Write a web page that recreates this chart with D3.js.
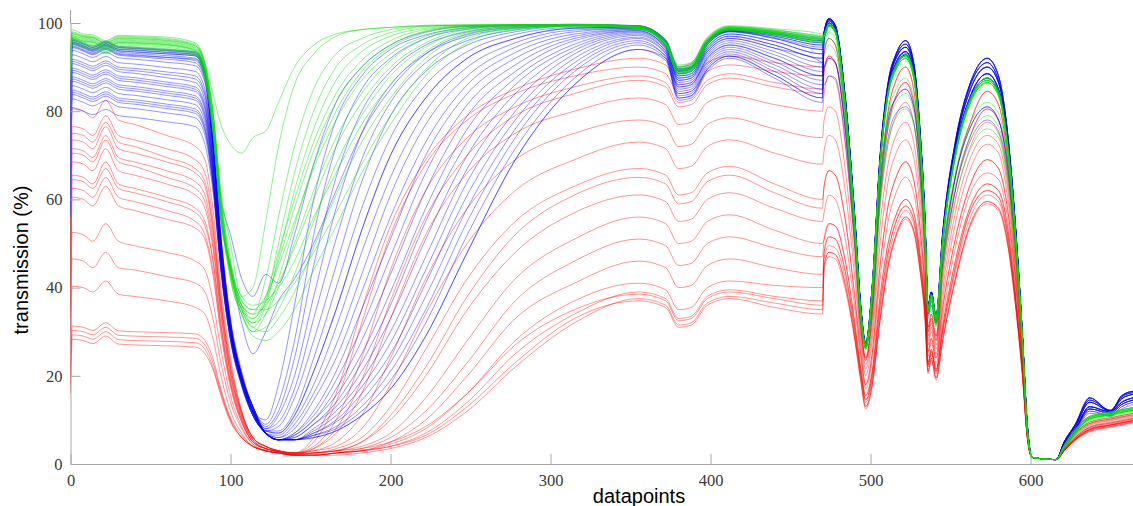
<!DOCTYPE html>
<html><head><meta charset="utf-8">
<script src="https://cdn.jsdelivr.net/npm/d3@7"></script>
<style>body{margin:0;background:#fff}svg{display:block}</style>
</head><body>
<svg id="chart" width="1133" height="506"></svg>
<script>
// shared datapoint positions (x) at which every spectrum was read
const xPoints = [0,1,8,14,22,30,40,60,78,84,89,94,100,107,114,122,130,140,152,166,182,200,222,248,278,315,355,372,380,388,398,412,440,470,
  471,474,478,484,490,494,497,501,506,511,516,522,527,531,534,536,538,541,545,553,562,573,580,586,591,595,598,601,616,621,628,637,650,657,664];
const xTicks = [0,100,200,300,400,500,600];
const yTicks = [0,20,40,60,80,100];

// ---- green spectra: part up to datapoint 470 ----
const greenLeft = [
 [92,98,97.2,97,95.8,97,96.9,96.5,95.2,90.5,80,62,50,38,40,55,72,86,93,97,98.5,99,99.5,99.6,99.6,99.7,99.3,96,90.5,91,96.5,99.2,98.5,97.2],
 [93,98.5,97.5,97.3,96,97.2,97.1,96.8,95.5,91,80,61,46,36,34,42,56,72,85,93,96.5,98.5,99.3,99.5,99.6,99.7,99.4,96.2,90,90.8,96.8,99.4,98.7,97.5],
 [91,97.5,96.8,96.6,95.3,96.5,96.4,96,94.8,91,84,77,72.5,70.5,74,75.5,82,90,95,97.5,98.5,99,99.4,99.5,99.6,99.6,99.2,95.8,90,90.7,96.3,99,98.3,96.8],
 [90,97,96.6,96.4,95,96.3,96.2,95.8,94.5,90,79,60,44,35,31,36,47,62,76,87,93.5,97,98.8,99.4,99.6,99.6,99.2,95.7,89.5,90.3,96,99,98.2,96.6],
 [92,97.2,96.4,96.2,94.8,96.1,96,95.6,94.3,89.5,78,59,44,36,33,38,48,60,73,84,91.5,96,98.5,99.3,99.5,99.6,99.1,95.5,89.6,90.4,96.2,99.1,98.1,96.5],
 [90,96.8,96.2,96,94.6,95.9,95.8,95.4,94.1,89.5,78,58,43,34,30,34,42,54,68,80,89,94.5,97.8,99.2,99.5,99.6,99.1,95.6,89.2,90,96,98.9,98,96.4],
 [91,96.7,96,95.8,94.4,95.7,95.6,95.2,93.9,89,77.5,58,45,37,35,38,45,55,67,78,87,93,97,99,99.4,99.6,99,95.4,89.3,90.1,96,98.8,97.9,96.3],
 [89,96.5,95.8,95.6,94.2,95.5,95.4,95,93.7,89,77,57,43,35,32,34,40,50,62,74,84,91.5,96.5,98.8,99.4,99.6,99,95.3,89,89.8,95.8,98.8,97.8,96.2],
 [90,96.4,95.6,95.4,94,95.3,95.2,94.8,93.5,88.5,76.5,57,44,36,34,36,41,49,60,72,82,90,95.5,98.5,99.3,99.5,98.9,95.2,89,89.8,95.7,98.7,97.7,96],
 [88,96,95.3,95.1,93.8,95,94.9,94.5,93.2,88,76,56,42,34,30,31,35,43,55,68,79,88,94.5,98.2,99.2,99.5,98.9,95,88.8,89.6,95.6,98.6,97.6,95.9],
 [89,95.8,95,94.8,93.5,94.7,94.6,94.2,93,88,76,57,45,38,36,37,40,46,56,66,77,86,93.5,97.8,99,99.4,98.8,95,88.5,89.4,95.4,98.5,97.5,95.8],
 [88,95.5,94.7,94.5,93.2,94.4,94.3,94,92.8,87.5,75.5,56,43,35,31,30,33,39,49,61,73,83,92,97.3,98.9,99.4,98.8,94.8,88.4,89.2,95.3,98.4,97.4,95.7],
 [87,95.2,94.4,94.2,93,94.1,94,93.7,92.5,87.5,75.5,56,44,37,35,35,37,41,48,57,68,79,89.5,96.5,98.7,99.3,98.7,94.7,88.2,89,95.2,98.3,97.3,95.6],
 [91,97.6,96.9,96.7,95.4,96.6,96.5,96.1,94.8,90.5,79.5,60,42,34,29,28,30,35,44,54,66,77,88,95.5,98.5,99.3,98.8,95,88.6,89.4,95.5,98.6,97.8,96.3],
 [92,97.8,97,96.8,95.5,96.8,96.7,96.3,95,90.5,79.5,60,46,36,32,37,50,66,80,90,95,97.8,99.2,99.5,99.6,99.7,99.3,96,90.2,91,96.6,99.2,98.4,97],
 [90,96.6,95.9,95.7,94.3,95.6,95.5,95.1,93.8,89,77,57.5,44,35,33,37,46,58,71,82,90,95,98.2,99.3,99.5,99.6,99.1,95.5,89.4,90.2,96,98.9,97.9,96.3]
];
// ---- green spectra: part from datapoint 471 (profiles + which profile each spectrum follows) ----
const greenRight = [
 [97,99.5,98,82,55,34,26.5,39,68,84,90,92.5,88,73,54,35,38,33,50,70,82,87,84,71,50,28,8,1.5,1,4,7.5,10.5,11.5,12,12.5],
 [97.3,99.8,98.3,82.5,55.5,34.5,27,39.5,68.5,84.5,90.5,93,88.5,73.5,54.5,35.5,38.5,33.5,50.5,70.5,82.5,87.5,84.5,71.5,50.5,28.5,8.5,1.5,1,4.2,7.8,10.8,11.8,12.3,12.8],
 [96.8,99.3,97.8,81.5,54.5,33.5,26,38.5,67.5,83.5,89.5,92,87.5,72.5,53.5,34.5,37.5,32.5,49.5,69.5,81.5,86.5,83.5,70.5,49.5,27.5,7.5,1.5,1,3.8,7.2,10.2,11.2,11.7,12.2],
 [95,96.5,95,79,52,32,27,37,62,76,82,84,80,66,49,34,36,31.5,46,63,74,79,76.5,65,46,26,7.5,1.5,1,3.5,7,10,11,11.5,12],
 [93,95,93.5,78,51,31,28,36,60,73,78.5,80.5,77,64,47,33,35,31,44,60,71,76,74,63,45,25,7,1.5,1,3.5,6.8,9.8,10.8,11.3,11.8],
 [96,98,96.5,80.5,53.5,33,27,38,64,79,85,87.5,83,69,51,34.5,37,32,48,66,77,82,79.5,67.5,48,27,8,1.5,1,3.8,7.2,10.2,11.2,11.7,12.2]
];
const greenRightIdx = [1,0,3,2,0,5,1,0,4,2,0,1,2,1,0,2];

// ---- blue spectra ----
const blueLeft = [
 [85,96.3,95.5,94.8,95.9,94.7,94.5,94,93.5,89.5,74,52,33,21,13,9,14,28,52,72,85,92,96.5,98.6,99.4,99.6,99.3,96,89.5,90,95.8,98.5,97.6,96],
 [80,96,95.2,94.4,95.6,94.4,94.2,93.7,93.2,89,73,51,32,20,13,8,11,20,38,58,75,86,93,97,98.8,99.5,99.3,95.8,89,89.6,95.5,98.2,97,95],
 [90,95.6,94.8,94,95.2,94,93.8,93.3,92.8,88.6,73,51,32,20,13,7.5,8.5,15,28,45,64,79,89,95,98,99.3,99.2,96.1,89.7,90.2,96,98.6,97.8,96.5],
 [75,95.3,94.5,93.7,94.9,93.7,93.5,93,92.5,88.3,72.5,50.5,32,20,13,7.5,7.5,12,24,40,58,74,86,93.5,97.4,99,99,95.5,88.5,89,95,98,96.5,94],
 [70,95.1,94.3,93.5,94.7,93.4,93.1,92.6,92,88,72,50,31.5,20,12.5,7,6.5,10,18,31,48,65,80,90,95.5,98.4,98.8,95.8,89,89.6,95.5,98.2,97,95],
 [88,94.8,94,93.2,94.4,93.1,92.8,92.2,91.5,87.5,72,50,31.5,20,12.5,8,9.5,17,33,51,69,82,91,96,98.4,99.4,99.2,95,88,88.5,94.5,97.5,95.8,93],
 [65,94.4,93.6,92.8,94,92.7,92.4,91.8,91,87,71.5,49.5,31,19.5,12.5,7,6,8,14.5,24,39,56,73,86,93.3,97.5,98.6,94.8,87.5,88,94,97,95,92],
 [78,93.8,93,92.2,93.4,92.1,91.8,91.1,90.3,86.5,71,49,31,19.5,12.5,7,5.5,7,12,21,35,51,70,84,92,97,98.5,95.6,88.7,89.3,95.2,98.1,96.7,94.5],
 [82,92.8,92,91.2,92.4,91,90.7,89.9,89,85,70,48.5,31,20,12,10,18,36,60,78,88,94,97.3,98.9,99.5,99.7,99.4,96,89.5,90,95.8,98.5,97.6,96],
 [60,91.8,91,90.2,91.4,90,89.7,88.9,88,84,69.5,48,30.5,19.5,12,7,5.5,6.5,10,17,28,43,62,79,89,96,98.2,94.5,87,87.5,93.5,96.5,94.3,91],
 [72,91.3,90.5,89.7,90.9,89.5,89.2,88.3,87.3,83.5,69,48,30.5,19.5,12,7,6,9,16,27,43,61,77,88,94.5,98,98.8,95,88,88.5,94.5,97.5,95.8,93],
 [58,90.8,90,89.2,90.4,89,88.6,87.6,86.5,82.5,68.5,47.5,30,19,12,7,5.5,6,9,14,23,36,55,73,86,94.5,97.8,94,86,86.5,92.5,95.5,92.8,89],
 [68,89.8,89,88.2,89.4,88,87.6,86.6,85.5,81.5,68,47,30,19,12,7.5,7,11,21,35,53,70,83,92,96.5,98.8,99,94.8,87.5,88,94,97,95,92],
 [62,89.3,88.5,87.7,88.9,87.5,87.1,86.1,85,81,67.5,47,30,19,12,7,5.5,5.5,8,12,19,30,47,67,82,93,97.2,93.6,85.5,86,92,95,92,88],
 [75,88.8,88,87.2,88.4,87,86.6,85.6,84.5,80.5,67,46.5,29.5,19,12,7,5.5,7,11,19,31,47,66,81.5,90.5,96.5,98.3,94.2,86.5,87,93,96,93.5,90],
 [56,87.8,87,86.2,87.4,86,85.6,84.6,83.5,79.5,66.5,46,29.5,18.5,11.5,7,5.5,5.5,7,10,16,25,41,61,78,91,96.5,93,84.5,85,91,94,90.5,86],
 [64,87.3,86.5,85.7,86.9,85.5,85.1,84.1,83,79,66,46,29.5,18.5,11.5,7,5.5,6.5,10,15.5,25,39,58,76,87.5,95.2,98,94.5,87,87.5,93.5,96.5,94.3,91],
 [70,86.8,86,85.2,86.4,85,84.6,83.6,82.5,78.5,65.5,45.5,29,18.5,11.5,7,5.5,5.5,6.5,8.5,13,21,35,55,74,89,95.5,92.6,84,84.5,90.5,93.5,89.7,85],
 [57,85.8,85,84.2,85.4,84,83.6,82.6,81.5,77.5,65,45,29,18.5,11.5,7,5.5,6,9,13,21,33,51,70,84,93.8,97.5,93.6,85.5,86,92,95,92,88],
 [60,84.8,84,83.2,84.4,83,82.6,81.6,80.5,76.5,64.5,45,28.5,18,11,7,5.5,5.5,6,7.5,11,17,29,48,69,86,94,92,83,83.5,89.5,92.5,88.2,83],
 [66,84.3,83.5,82.7,83.9,82.5,82.1,81.1,80,76,64,44.5,28.5,18,11,7,5.5,5.5,7.5,11,17.5,27.5,44,64,80,92,96.8,93.2,85,85.5,91.5,94.5,91.2,87],
 [58,83.8,83,82.2,83.4,82,81.6,80.6,79.5,75.5,63.5,44.5,28.5,18,11,7,5.5,5.5,7,9.5,14.5,23,38,58,76,90,96,92.3,83.5,84,90,93,89,84],
 [62,82.8,82,81.2,82.4,81,80.6,79.6,78.5,74.5,63,44,28,18,11,7,5.5,5.5,6,7.5,11,17,29,48,69,86,94,91.5,82.5,83,89,92,87.5,82],
 [56,80.8,80,79.2,80.4,79,78.6,77.6,76.5,72.5,62,43.5,28,17.5,11,7,5.5,5.5,6.5,8,12,19,32,52,71.5,87.5,95,92,83,83.5,89.5,92.5,88.2,83],
 [92,95.4,94.6,93.8,95,93.7,93.4,93,92.6,88.5,75,60,52,42,38,43,41,52,68,82,90,95,98,99.2,99.5,99.6,99.3,95.9,89.2,89.8,95.6,98.3,97.3,95.5],
 [86,94.6,93.8,93,94.2,92.9,92.6,92.2,91.8,87.8,73,55,45,32,25,30,37,42,50,62,75,85,93,97.5,99,99.5,99.2,95.5,88.5,89,95,98,96.5,94],
 [90,96.1,95.3,94.5,95.7,94.5,94.3,93.8,93.3,89.2,73.5,51.5,32.5,20.5,13,8.5,12,24,45,65,80,89,95,98,99.2,99.6,99.3,96.2,90,90.6,96.2,98.8,98.1,96.8],
 [84,95.7,94.9,94.1,95.3,94.1,93.9,93.4,92.9,88.8,73,51,32,20,13,7.5,7,11,21,35,53,70,83,92,96.5,98.8,99,95.9,89.2,89.8,95.6,98.3,97.3,95.5]
];
const blueRight = [
 [98,101,99.5,84,57,35.5,27.5,40,70,86.5,93,96,91,75.5,56,36,39,33.5,52,73,86,92,88,74,52,29,9,1.5,1,5,9,15,12,15.5,16.5],
 [97.5,100.5,99,83.5,56.5,35,27,39.5,69,85.5,92,94.5,90,74.5,55.5,35.5,38.8,33.2,51,72,84.5,90,86.5,73,51.5,28.8,8.8,1.5,1,4.8,8.5,14,12,14.8,15.8],
 [97,100,98.5,83,56,35,27,39,68.5,85,91,93.5,89,74,55,35,38.5,33,50.5,71,83,88.5,85,72,51,28.5,8.5,1.5,1,4.5,8,13,11.8,14,15],
 [96.5,99.5,98,82.5,55.5,34.5,26.5,38.5,68,84.5,90.5,92.8,88.5,73.5,54.5,34.5,38,32.5,50,70.5,82.5,87.5,84.5,71.5,50.5,28,8.2,1.5,1,4.2,7.8,12.5,11.5,13.5,14.5],
 [97.8,100.8,99.2,83.8,56.8,35.2,27.2,39.8,69.5,86,92.5,95.2,90.5,75,55.8,35.8,39,33.4,51.5,72.5,85.5,91,87,73.5,51.8,28.9,8.9,1.5,1,4.9,8.8,14.5,12.2,15.2,16.2],
 [90,92,91,77,52,33,27,37,63,78,83,85,81,68,51,34,37,32,47,65,76,81,78,67,48,27,8,1.5,1,4,7.5,12,11,13,14],
 [86,88,87.5,74,50,32,27.5,36,60,74,79.5,81,77.5,65,49,33.5,36,31.5,45,62,73,78,75.5,65,47,26.5,8,1.5,1,4,7.2,11.5,10.8,12.5,13.5]
];
const blueRightIdx = [0,1,2,3,4,1,2,0,3,5,4,2,1,3,0,6,2,1,4,5,3,0,2,1,3,2,0,4];

// ---- red spectra ----
const redLeft = [
 [55,80.5,80,78.5,82.5,78,77,74.5,72,69,58,40,24,12,6,4,3,2.5,5,14,32,52,68,78,84,88,90,88.5,84,84.5,89,90.5,89,88],
 [50,76.5,76,74.5,79,74.5,73.5,71.5,69,66,55.5,38,23,12,6,4,3,2.5,6,16,35,54,69,79,85,89.5,92,90.5,86,86.5,91,92.5,91,90],
 [48,75,74.5,73,77.5,73,72,69.5,67,64,54,37,22,11.5,6,4,3,2.5,3.5,7,16,33,52,66,75,80,83,81.5,77,77.5,82,83.5,81.5,80],
 [46,73.5,73,71.5,76.5,71.5,70.5,68.5,66,63,53,36.5,22,11.5,6,4,3,2.5,4,10,24,44,62,74,81,85.5,88,86.5,82,82.5,87,88.5,86.5,85],
 [44,71.5,71,69.5,74.5,69.5,68.5,66.5,64,61,51.5,35.5,21,11,5.5,4,3,2.5,3,5,11,24,42,58,69,75,78,76.5,72,72.5,77,78.5,76,74],
 [42,70.5,70,68.5,73.5,68.5,67.5,65,62.5,59.5,50,34.5,20.5,11,5.5,3.5,3,2.5,2.5,3.5,6,13,26,42,55,63,67,65.5,61,61.5,66,67.5,63.5,60],
 [40,68.5,68,66.5,71.5,66.5,65.5,63.5,61,58,49,34,20,10.5,5.5,3.5,2.8,2.5,3,4,8,18,34,50,62,69,73,71.5,67,67.5,72,73.5,70.5,68],
 [38,65.5,65,63.5,68.5,63.5,62.5,60.5,58,55,46.5,32,19,10,5,3.5,2.8,2.2,2.5,3,5,10,20,35,48,57,61,59.5,55,55.5,60,61.5,58,55],
 [36,64.5,64,62.5,67,62.5,61.5,59.5,57,54,46,31.5,18.5,10,5,3.5,2.8,2.2,3.5,8,19,37,56,70,79,84,87,85.5,81,81.5,86,87.5,85.5,84],
 [35,62.5,62,60.5,65,60.5,59.5,57.5,55,52,44,30.5,18,9.5,5,3.5,2.8,2.2,2.5,3,4,7,15,28,42,51,56,54.5,50,50.5,55,56.5,53,50],
 [33,60.5,60,58.5,63,58.5,57.5,55.5,53.5,51,43,29.5,17.5,9.5,5,3.5,2.8,2.2,2.5,3,5,11,22,38,52,61,65,63.5,59,59.5,64,65.5,61.5,58],
 [30,52.5,52,50.5,54.5,50.5,49.5,48,46,44,37,26,15.5,8.5,4.5,3,2.5,2,2,2.5,3.5,6,12,23,37,46,51,49.5,45,45.5,50,51.5,49,47],
 [27,46.5,46,44.5,48,44.5,44,42.5,41,39,33,23,14,8,4.5,3,2.5,2,2,2.5,3,5,10,20,33,41,46,44.5,40,40.5,45,46.5,44.5,43],
 [25,40.3,40,39,41.5,38.5,38,37,35.5,34,28.5,20,12,7,4,3,2.5,2,2,2.5,3,4.5,8,16,28,37,41,39.5,35,35.5,40,41.5,40.5,40],
 [22,31.3,31,30.3,32,30.2,30,29.8,29.5,28,24,17,10.5,6.5,4,3,2.5,2,2,2.5,3,4,7,14,25,34,39,37.5,33,33.5,38,39.5,38,37],
 [20,30.3,30,29.3,31,29.2,29,28.8,28.5,27,23,16.5,10,6,4,3,2.5,2,2.5,3,3.5,5,8.5,16,27,35,38.5,37,32.5,33,37.5,39,37.5,36],
 [18,29.3,29,28.3,30,28.2,28,27.8,27.5,26,22,16,10,6,4,3,2.5,2,2,2,2.5,3.5,6,12,22,32,37.5,36,31.5,32,36.5,38,36.5,35],
 [16,28.3,28,27.3,29,27.2,27,26.8,26.5,25,21.5,15.5,9.5,6,4,3,2.5,2,2,2.5,3,4,6.5,13,23,33,37,35.5,31,31.5,36,37.5,35.5,34]
];
const redRight = [
 [93,96.5,95,79.5,53.5,32,24,35,64,80,87,90,85,70,51,31,34,29,45,65,77,84.5,81.5,68.5,48,26,7.5,1.5,1,3.8,7,9.5,10.5,11,11.5],
 [89,92.5,91,76.5,51.5,31,23.5,33.5,61,76.5,83.5,86.5,82,67.5,49,30,33,28,43,62,74,80.5,78,66,46,25.5,7.3,1.5,1,3.6,6.8,9.2,10.2,10.7,11.2],
 [84,88,87,73,49.5,30,22.5,32,58,72.5,79,82,77.5,64,47,29,32,27,41,59.5,71.5,77.5,75,63.5,44.5,25,7.2,1.5,1,3.5,6.6,9,10,10.5,11],
 [78,81,80,67.5,46,28.5,21.5,30,54,68,74.5,77.5,73,60.5,45,28,31,26,39,57,69,74.5,72.5,61.5,43,24,7,1.5,1,3.4,6.4,8.8,9.8,10.3,10.8],
 [71,74.5,73.5,62.5,43,27,20,28,50,64,70.5,73.5,69.5,57.5,42,27,30,25,37,54.5,66.5,72.5,70.5,59.5,42,23.5,7,1.5,1,3.3,6.2,8.5,9.5,10,10.5],
 [63,66.5,65.5,56,38.5,25,18,25,45,58.5,65,68.5,64.5,53.5,40,25.5,28.5,24,35,51,63,69,67,57,40.5,23,6.8,1.5,1,3.2,6,8.3,9.3,9.8,10.3],
 [57,61,60,51.5,36,23.5,17,23.5,42,55,61.5,65,61.5,51,38,24.5,27.5,23,33,49,61,66,64.5,55,39,22,6.5,1.5,1,3.1,5.9,8.1,9.1,9.6,10.1],
 [51,54.5,54,46.5,32.5,21.5,15.5,21,38,50,56.5,60,57,47.5,36,23,26,21.5,31,46,58,63.5,62,53,37,21,6.3,1.5,1,3,5.7,7.9,8.9,9.4,9.9],
 [45,48,47.5,41,29,19,13,18,33,45,52,56,53,44,33.5,21,24,19.5,28,42,54,59.5,58,49.5,35,20,6,1.5,1,3,5.5,7.5,8.5,9,9.5],
 [46.5,49.5,49,42.5,30,20,14,19,34.5,46.5,53.5,57.5,54.5,45,34.5,22,25,20.5,29.5,43.5,55.5,61,59.5,50.5,35.5,20.5,6.1,1.5,1,3,5.6,7.7,8.7,9.2,9.7],
 [44,47,46.5,40,28.5,18.5,12.5,17.5,32.5,44.5,51.5,55.5,52.5,43.5,33,20.5,23.5,19,27.5,41.5,53.5,59,57.5,49,34.5,19.5,5.9,1.5,1,2.9,5.4,7.3,8.3,8.8,9.3],
 [48,51.5,51,44,31,20.5,14.5,20,36,48,55,58.5,55.5,46,35,22.5,25.5,21,30,44.5,57,62,60.5,51.5,36,20.8,6.2,1.5,1,3,5.6,7.8,8.8,9.3,9.8]
];
const redRightIdx = [0,0,2,1,3,5,4,6,1,7,5,7,11,9,8,11,10,8];

// ---------------- drawing ----------------
const svg = d3.select('#chart');
const x = d3.scaleLinear().domain([0, 664]).range([70.5, 1132.9]);
const y = d3.scaleLinear().domain([0, 100]).range([464, 23]);

const line = d3.line()
  .x((d, i) => x(xPoints[i]))
  .y(d => y(d))
  .curve(d3.curveMonotoneX);

function drawGroup(leftRows, rightRows, idx, color, opacity) {
  const data = leftRows.map((row, i) => row.concat(rightRows[idx[i]]));
  svg.append('g').selectAll('path').data(data).join('path')
    .attr('d', line)
    .attr('fill', 'none')
    .attr('stroke', color)
    .attr('stroke-opacity', opacity)
    .attr('stroke-width', 1);
}

drawGroup(redLeft, redRight, redRightIdx, '#ff0000', 0.42);
drawGroup(blueLeft, blueRight, blueRightIdx, '#0000ff', 0.42);
drawGroup(greenLeft, greenRight, greenRightIdx, '#00e000', 0.45);

// axes
const axisColor = '#a8a8a8';
const xAxis = svg.append('g').attr('transform', `translate(0,${y(0)})`)
  .call(d3.axisBottom(x).tickValues(xTicks).tickSize(-10).tickSizeOuter(0).tickPadding(10));
const yAxis = svg.append('g').attr('transform', `translate(${x(0)},0)`)
  .call(d3.axisLeft(y).tickValues(yTicks).tickSize(-10).tickSizeOuter(0).tickPadding(8));
[xAxis, yAxis].forEach(a => {
  a.select('.domain').attr('stroke', axisColor);
  a.selectAll('.tick line').attr('stroke', axisColor);
  a.selectAll('.tick text').attr('fill', '#3a3a3a')
    .style('font-family', '"Liberation Serif", "Times New Roman", serif')
    .style('font-size', '16.5px');
});
svg.append('line').attr('x1', x(0)).attr('x2', x(0)).attr('y1', 10).attr('y2', y(100))
  .attr('stroke', axisColor);

svg.append('text')
  .attr('transform', 'translate(27.5,260) rotate(-90)')
  .attr('text-anchor', 'middle')
  .style('font-family', '"Liberation Sans", Arial, sans-serif')
  .style('font-size', '20px')
  .attr('fill', '#000')
  .text('transmission (%)');

svg.append('text')
  .attr('x', 639).attr('y', 503)
  .attr('text-anchor', 'middle')
  .style('font-family', '"Liberation Sans", Arial, sans-serif')
  .style('font-size', '20px')
  .attr('fill', '#000')
  .text('datapoints');
</script>
</body></html>
